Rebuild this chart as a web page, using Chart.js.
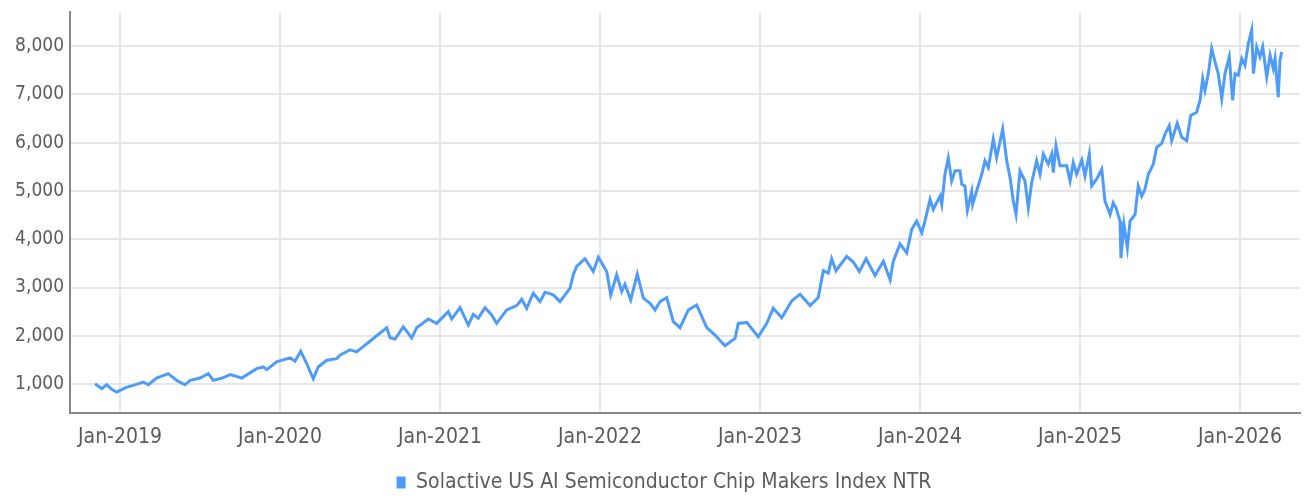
<!DOCTYPE html>
<html>
<head>
<meta charset="utf-8">
<script src="https://cdn.jsdelivr.net/npm/chart.js@4"></script>
<style>
  html, body { margin: 0; padding: 0; background: #fff; overflow: hidden; }
  #wrap { width: 1304px; height: 508px; margin-top: -5px; }
</style>
</head>
<body>
<div id="wrap"><canvas id="indexChart"></canvas></div>
<script>
// time as decimal years
const yearFrac = [
  2018.844, 2018.886, 2018.917, 2018.948, 2018.979, 2019.042, 2019.083, 2019.146, 2019.177, 2019.229,
  2019.302, 2019.354, 2019.406, 2019.438, 2019.500, 2019.552, 2019.583, 2019.639, 2019.688, 2019.761,
  2019.854, 2019.896, 2019.917, 2019.979, 2020.063, 2020.094,
  2020.129, 2020.167, 2020.208, 2020.239, 2020.292, 2020.354, 2020.375, 2020.438, 2020.479, 2020.583,
  2020.667, 2020.688, 2020.719, 2020.771, 2020.823, 2020.854, 2020.927, 2020.979, 2021.052, 2021.073,
  2021.125, 2021.177, 2021.208, 2021.239, 2021.281, 2021.323, 2021.354, 2021.417, 2021.479, 2021.511, 2021.542,
  2021.583, 2021.625, 2021.656, 2021.708, 2021.750, 2021.813, 2021.833, 2021.854, 2021.906, 2021.958,
  2021.990, 2022.042, 2022.067, 2022.104, 2022.136, 2022.156, 2022.192, 2022.233, 2022.271, 2022.313,
  2022.344, 2022.375, 2022.417, 2022.458, 2022.500, 2022.552, 2022.604, 2022.667, 2022.719, 2022.781, 2022.844,
  2022.864, 2022.917, 2022.989, 2023.042, 2023.083, 2023.136, 2023.198, 2023.250, 2023.313, 2023.364,
  2023.396, 2023.427, 2023.448, 2023.475, 2023.542, 2023.583, 2023.621, 2023.663, 2023.719, 2023.771,
  2023.813, 2023.833, 2023.875, 2023.917, 2023.948, 2023.979, 2024.011, 2024.031, 2024.063, 2024.083,
  2024.125, 2024.136, 2024.156, 2024.177, 2024.198, 2024.219, 2024.250, 2024.261, 2024.281, 2024.296,
  2024.323, 2024.329, 2024.354, 2024.386, 2024.406, 2024.427, 2024.458, 2024.479, 2024.517, 2024.542,
  2024.563, 2024.583, 2024.600, 2024.625, 2024.656, 2024.677, 2024.698, 2024.729, 2024.750, 2024.771,
  2024.802, 2024.823, 2024.833, 2024.850, 2024.875, 2024.917, 2024.938, 2024.958, 2024.979, 2025.011,
  2025.031, 2025.058, 2025.073, 2025.104, 2025.136, 2025.156, 2025.188, 2025.208, 2025.225, 2025.250,
  2025.256, 2025.275, 2025.296, 2025.313, 2025.344, 2025.364, 2025.386, 2025.406, 2025.427, 2025.458,
  2025.479, 2025.511, 2025.531, 2025.558, 2025.573, 2025.608, 2025.636, 2025.667, 2025.692, 2025.729,
  2025.750, 2025.767, 2025.781, 2025.802, 2025.823, 2025.844, 2025.864, 2025.886, 2025.906, 2025.933,
  2025.954, 2025.969, 2025.989, 2026.011, 2026.031, 2026.052, 2026.073, 2026.084, 2026.104, 2026.125,
  2026.142, 2026.167, 2026.188, 2026.208, 2026.219, 2026.239, 2026.250, 2026.261
];
const indexValues = [
  1005, 903, 985, 889, 833, 937, 972, 1042, 985, 1125,
  1215, 1076, 985, 1076, 1125, 1215, 1076, 1125, 1194, 1125,
  1319, 1354, 1298, 1458, 1542, 1473,
  1681, 1423, 1110, 1354, 1493, 1527, 1597, 1710, 1667, 1944,
  2167, 1958, 1931, 2187, 1958, 2167, 2347, 2256, 2500, 2347,
  2583, 2222, 2444, 2361, 2583, 2431, 2256, 2535, 2625, 2757, 2569,
  2882, 2708, 2903, 2847, 2708, 2986, 3264, 3437, 3597, 3333,
  3625, 3333, 2847, 3264, 2917, 3069, 2743, 3277, 2778, 2674,
  2535, 2708, 2792, 2292, 2167, 2535, 2639, 2167, 2014, 1792, 1944,
  2256, 2277, 1979, 2256, 2569, 2375, 2722, 2861, 2625, 2792,
  3347, 3299, 3597, 3347, 3646, 3528, 3333, 3597, 3250, 3542,
  3160, 3542, 3903, 3715, 4202, 4375, 4132, 4375, 4827, 4618,
  4896, 4722, 5347, 5681, 5208, 5417, 5417, 5139, 5104, 4597,
  4986, 4722, 5000, 5347, 5625, 5486, 6076, 5694, 6285, 5625,
  5277, 4792, 4514, 5417, 5208, 4653, 5172, 5625, 5347, 5764,
  5556, 5764, 5382, 5938, 5521, 5521, 5208, 5590, 5347, 5639,
  5313, 5764, 5104, 5243, 5451, 4792, 4514, 4757, 4653, 4375,
  3611, 4306, 3819, 4375, 4514, 5104, 4896, 5035, 5347, 5556,
  5903, 5986, 6181, 6354, 6042, 6403, 6111, 6042, 6563, 6632,
  6875, 7327, 7083, 7431, 7952, 7674, 7431, 6910, 7431, 7778,
  6875, 7431, 7396, 7743, 7604, 8056, 8333, 7431, 7986, 7778,
  7986, 7361, 7813, 7535, 7743, 6944, 7708, 7882
];
const xTickYears = [2019, 2020, 2021, 2022, 2023, 2024, 2025, 2026];
const yTickValues = [1000, 2000, 3000, 4000, 5000, 6000, 7000, 8000];
const seriesLabel = 'Solactive US AI Semiconductor Chip Makers Index NTR';

const lineBlue = '#4f9cf8';
const textGray = '#5c5c5c';
const fontFamily = '"DejaVu Sans Condensed", sans-serif';

const points = yearFrac.map(function (t, i) { return { x: t, y: indexValues[i] }; });

/* legend sits a little right of the canvas centre */
const legendNudge = {
    id: 'legendNudge',
    afterLayout: function (chart) {
        if (chart.legend) { chart.legend.left += 14; chart.legend.right += 14; }
    }
};

new Chart(document.getElementById('indexChart'), {
    type: 'line',
    data: {
        datasets: [{
            label: seriesLabel,
            data: points,
            borderColor: lineBlue,
            backgroundColor: lineBlue,
            borderWidth: 3,
            pointRadius: 0,
            tension: 0
        }]
    },
    plugins: [legendNudge],
    options: {
        responsive: true,
        maintainAspectRatio: false,
        animation: false,
        layout: { padding: { top: 6, right: 4, left: 0, bottom: 0 } },
        plugins: {
            tooltip: { enabled: false },
            legend: {
                position: 'bottom',
                labels: {
                    color: textGray,
                    font: { family: fontFamily, size: 21 },
                    boxWidth: 9,
                    boxHeight: 12,
                    padding: 8,
                    generateLabels: function (chart) {
                        const items = Chart.defaults.plugins.legend.labels.generateLabels(chart);
                        items.forEach(function (it) { it.lineWidth = 0; it.strokeStyle = lineBlue; });
                        return items;
                    }
                }
            }
        },
        scales: {
            x: {
                type: 'linear',
                min: 2018.6875,
                max: 2026.375,
                afterBuildTicks: function (scale) {
                    scale.ticks = xTickYears.map(function (v) { return { value: v }; });
                },
                afterFit: function (scale) { scale.height = 51; },
                ticks: {
                    color: textGray,
                    font: { family: fontFamily, size: 21 },
                    padding: 12,
                    maxRotation: 0,
                    callback: function (v) { return 'Jan-' + v; }
                },
                grid: { color: '#e6e6e6', lineWidth: 2, drawTicks: false },
                border: { color: '#888', width: 2 }
            },
            y: {
                min: 400,
                max: 8700,
                afterBuildTicks: function (scale) {
                    scale.ticks = yTickValues.map(function (v) { return { value: v }; });
                },
                afterFit: function (scale) { scale.width = 70; },
                ticks: {
                    color: textGray,
                    font: { family: fontFamily, size: 19 },
                    padding: 6,
                    callback: function (v) { return v.toLocaleString('en-US'); }
                },
                grid: { color: '#e6e6e6', lineWidth: 2, drawTicks: false },
                border: { color: '#888', width: 2 }
            }
        }
    }
});
</script>
</body>
</html>
